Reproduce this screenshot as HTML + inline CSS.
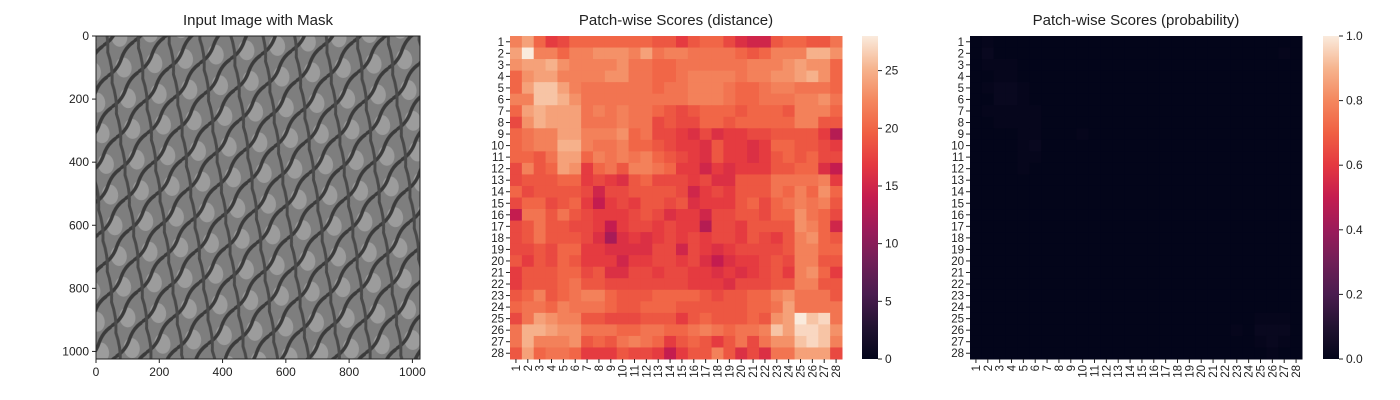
<!DOCTYPE html>
<html><head><meta charset="utf-8">
<style>
body{margin:0;background:#fff;}
svg{display:block;font-family:"Liberation Sans",Arial,sans-serif;}
</style></head>
<body>
<svg id="fig" width="1400" height="400">
<defs>
<pattern id="mesh" x="96" y="36" width="31" height="31" patternUnits="userSpaceOnUse" patternTransform="rotate(-8)">
<rect width="31" height="31" fill="#7e7e7e"/>
<ellipse cx="17" cy="17" rx="8" ry="10" fill="#9c9c9c"/>
<path d="M-2 24 Q10 20 16 8 T33 -8" stroke="#3b3b3b" stroke-width="3.5" fill="none"/>
<path d="M-2 55 Q10 51 16 39 T33 23" stroke="#3b3b3b" stroke-width="3.5" fill="none"/>
<path d="M3 -2 Q7 14 3 33" stroke="#4a4a4a" stroke-width="3" fill="none"/>
<path d="M34 -2 Q38 14 34 33" stroke="#4a4a4a" stroke-width="3" fill="none"/>
</pattern>
<linearGradient id="rocketGrad" x1="0" y1="1" x2="0" y2="0">
<stop offset="0" stop-color="#03051a"/><stop offset="0.1" stop-color="#221331"/>
<stop offset="0.2" stop-color="#4a1c4f"/><stop offset="0.3" stop-color="#701f57"/>
<stop offset="0.4" stop-color="#9b1b5a"/><stop offset="0.5" stop-color="#c41c4f"/>
<stop offset="0.6" stop-color="#e43840"/><stop offset="0.7" stop-color="#f06043"/>
<stop offset="0.8" stop-color="#f4875e"/><stop offset="0.9" stop-color="#f6b48e"/>
<stop offset="1" stop-color="#faebdd"/>
</linearGradient>
</defs>
<g id="root"></g>
</svg>
<script>
const imgTicks=[0,200,400,600,800,1000];
const distCbTicks=[0,5,10,15,20,25];
const probCbTicks=[0.0,0.2,0.4,0.6,0.8,1.0];
const distRows=[
[22,24,20,17,18,20,20,20,20,20,20,20,19,19,17,19,20,20,18,16,15,15,19,20,20,19,19,21],
[24,28,22,22,20,22,22,23,23,23,22,24,21,22,22,21,21,21,21,20,19,20,22,22,22,25,25,23],
[23,24,24,25,23,22,22,22,22,23,21,21,20,20,21,21,21,21,21,21,22,22,22,23,24,23,23,20],
[20,23,24,24,22,22,22,22,23,23,21,21,20,20,21,22,22,22,22,21,22,22,23,23,24,25,23,20],
[20,24,26,26,24,22,21,21,21,21,21,21,20,21,21,22,22,22,21,20,20,21,22,22,21,21,21,20],
[22,22,26,26,25,23,21,21,21,21,21,21,21,21,21,22,22,22,21,20,20,21,21,21,22,22,23,21],
[20,24,25,24,24,24,21,22,21,22,21,21,20,19,18,19,20,20,20,19,20,20,20,19,22,22,22,20],
[18,23,25,24,24,24,21,21,21,22,21,21,18,19,18,18,20,20,19,20,20,20,20,20,22,22,19,19],
[20,21,22,22,24,24,22,22,22,23,20,21,18,18,17,16,18,16,17,17,18,18,19,19,19,19,17,13],
[20,21,22,22,25,25,22,21,21,22,20,20,19,18,17,17,16,19,17,17,16,17,20,20,19,19,18,17],
[20,20,19,21,24,24,20,22,21,22,21,22,20,19,18,17,16,19,17,17,16,17,19,20,19,20,18,18],
[18,22,19,20,24,23,17,20,21,19,22,22,21,20,17,17,15,17,16,17,17,17,19,19,20,20,16,14],
[18,19,19,19,20,20,17,18,17,16,19,20,18,18,18,17,18,16,16,19,19,19,21,21,21,21,22,17],
[20,18,19,19,19,19,18,15,18,18,19,19,19,19,18,15,17,18,17,19,19,19,21,20,22,20,23,20],
[18,20,20,18,19,20,17,14,17,18,17,19,19,18,19,16,17,17,17,19,20,18,20,21,22,21,22,19],
[14,21,21,19,21,19,18,17,17,17,18,19,18,16,17,17,15,18,18,19,19,18,20,20,23,21,20,18],
[18,19,21,19,19,18,18,17,14,17,18,18,17,18,17,17,13,18,18,17,19,19,19,19,23,22,20,15],
[18,19,21,19,19,19,18,16,12,16,17,16,17,18,17,18,17,18,18,17,19,18,17,19,22,23,20,19],
[18,18,19,18,20,20,17,17,16,16,16,16,18,18,15,18,17,16,17,18,18,18,18,19,22,22,20,20],
[19,17,19,18,20,19,17,17,17,15,17,17,18,18,17,18,16,14,16,17,17,18,19,18,22,22,19,19],
[17,19,19,19,20,20,18,19,16,16,18,18,17,18,18,17,17,16,17,16,17,18,19,17,22,23,20,17],
[17,19,19,19,20,21,19,19,18,18,18,18,18,18,18,17,17,17,16,18,18,18,19,19,22,22,19,19],
[19,20,22,19,20,21,22,22,20,19,19,19,20,20,20,20,19,18,19,19,20,20,22,23,21,21,21,19],
[20,21,21,20,22,21,21,21,20,19,19,20,20,20,19,19,19,19,19,19,20,20,21,24,21,21,21,21],
[18,21,24,23,22,22,19,19,18,18,18,19,19,19,17,19,20,19,19,19,20,19,23,24,28,26,27,21],
[21,25,25,24,23,23,21,21,21,20,20,21,21,20,20,21,22,21,20,21,21,22,26,24,27,27,26,23],
[21,25,22,22,22,23,19,20,19,21,22,21,20,17,19,20,19,17,19,21,18,21,23,23,26,27,26,22],
[19,24,20,21,21,20,17,17,17,19,18,18,17,14,17,19,19,22,19,16,18,16,21,21,24,24,24,18]];
const probRows=[
[0,0.01,0,0,0,0,0,0,0,0,0,0,0,0,0,0,0,0,0,0,0,0,0,0,0,0,0,0],
[0,0.02,0,0,0,0,0,0,0,0,0,0,0,0,0,0,0,0,0,0,0,0,0,0,0,0,0.01,0],
[0,0.01,0.01,0.01,0,0,0,0,0,0,0,0,0,0,0,0,0,0,0,0,0,0,0,0,0,0,0,0],
[0,0,0.01,0.01,0,0,0,0,0,0,0,0,0,0,0,0,0,0,0,0,0,0,0,0,0,0,0,0],
[0,0.01,0.02,0.02,0.01,0,0,0,0,0,0,0,0,0,0,0,0,0,0,0,0,0,0,0,0,0,0,0],
[0,0,0.02,0.02,0.01,0,0,0,0,0,0,0,0,0,0,0,0,0,0,0,0,0,0,0,0,0,0,0],
[0,0.01,0.01,0.01,0.01,0.01,0,0,0,0,0,0,0,0,0,0,0,0,0,0,0,0,0,0,0,0,0,0],
[0,0,0.01,0.01,0.01,0.01,0,0,0,0,0,0,0,0,0,0,0,0,0,0,0,0,0,0,0,0,0,0],
[0,0,0,0,0.01,0.01,0,0,0,0.01,0,0,0,0,0,0,0,0,0,0,0,0,0,0,0,0,0,0],
[0,0,0,0,0.01,0.02,0,0,0,0,0,0,0,0,0,0,0,0,0,0,0,0,0,0,0,0,0,0],
[0,0,0,0,0.01,0.01,0,0,0,0,0,0,0,0,0,0,0,0,0,0,0,0,0,0,0,0,0,0],
[0,0,0,0,0.01,0,0,0,0,0,0,0,0,0,0,0,0,0,0,0,0,0,0,0,0,0,0,0],
[0,0,0,0,0,0,0,0,0,0,0,0,0,0,0,0,0,0,0,0,0,0,0,0,0,0,0,0],
[0,0,0,0,0,0,0,0,0,0,0,0,0,0,0,0,0,0,0,0,0,0,0,0,0,0,0,0],
[0,0,0,0,0,0,0,0,0,0,0,0,0,0,0,0,0,0,0,0,0,0,0,0,0,0,0,0],
[0,0,0,0,0,0,0,0,0,0,0,0,0,0,0,0,0,0,0,0,0,0,0,0,0,0,0,0],
[0,0,0,0,0,0,0,0,0,0,0,0,0,0,0,0,0,0,0,0,0,0,0,0,0,0,0,0],
[0,0,0,0,0,0,0,0,0,0,0,0,0,0,0,0,0,0,0,0,0,0,0,0,0,0,0,0],
[0,0,0,0,0,0,0,0,0,0,0,0,0,0,0,0,0,0,0,0,0,0,0,0,0,0,0,0],
[0,0,0,0,0,0,0,0,0,0,0,0,0,0,0,0,0,0,0,0,0,0,0,0,0,0,0,0],
[0,0,0,0,0,0,0,0,0,0,0,0,0,0,0,0,0,0,0,0,0,0,0,0,0,0,0,0],
[0,0,0,0,0,0,0,0,0,0,0,0,0,0,0,0,0,0,0,0,0,0,0,0,0,0,0,0],
[0,0,0,0,0,0,0,0,0,0,0,0,0,0,0,0,0,0,0,0,0,0,0,0,0,0,0,0],
[0,0,0,0,0,0,0,0,0,0,0,0,0,0,0,0,0,0,0,0,0,0,0,0,0,0,0,0],
[0,0,0,0,0,0,0,0,0,0,0,0,0,0,0,0,0,0,0,0,0,0,0,0,0.01,0.01,0.01,0],
[0,0,0,0,0,0,0,0,0,0,0,0,0,0,0,0,0,0,0,0,0,0,0.01,0,0.02,0.02,0.02,0],
[0,0,0,0,0,0,0,0,0,0,0,0,0,0,0,0,0,0,0,0,0,0,0,0,0.01,0.02,0.01,0],
[0,0,0,0,0,0,0,0,0,0,0,0,0,0,0,0,0,0,0,0,0,0,0,0,0,0.01,0,0]];

const NS="http://www.w3.org/2000/svg";
const root=document.getElementById('root');
function mk(tag,attrs,parent){const e=document.createElementNS(NS,tag);for(const k in attrs)e.setAttribute(k,attrs[k]);(parent||root).appendChild(e);return e;}
const stops=[[3,5,26],[34,19,49],[74,28,79],[112,31,87],[155,27,90],[196,28,79],[228,56,64],[240,96,67],[244,135,94],[246,180,142],[250,235,221]];
function rocket(t){t=Math.max(0,Math.min(1,t));const p=t*10,i=Math.min(9,Math.floor(p)),f=p-i;const a=stops[i],b=stops[i+1];
return 'rgb('+a.map((v,k)=>Math.round(v+(b[k]-v)*f)).join(',')+')';}

const IX0=96,IX1=420,IY0=36,IY1=359;
const ix=v=>IX0+v/1024*(IX1-IX0), iy=v=>IY0+v/1024*(IY1-IY0);
let t=mk('text',{x:(IX0+IX1)/2,y:25,'text-anchor':'middle','font-size':15,fill:'#222'});t.textContent='Input Image with Mask';


let im=mk('rect',{x:IX0,y:IY0,width:IX1-IX0,height:IY1-IY0,fill:'url(#mesh)',stroke:'#222','stroke-width':1});


imgTicks.forEach(v=>{
 mk('line',{x1:ix(v),x2:ix(v),y1:IY1,y2:IY1+4,stroke:'#222'});
 let a=mk('text',{x:ix(v),y:IY1+17,'text-anchor':'middle','font-size':12,fill:'#222'});a.textContent=v;
 
 
 mk('line',{x1:IX0-4,x2:IX0,y1:iy(v),y2:iy(v),stroke:'#222'});
 let b=mk('text',{x:IX0-7,y:iy(v)+4,'text-anchor':'end','font-size':12,fill:'#222'});b.textContent=v;
 
 
});

function heatmap(X0,X1,rows,vmax,title,cbX,cbTicks,fmt,nm){
 const Y0=36,Y1=359,n=rows.length,cw=(X1-X0)/28,ch=(Y1-Y0)/n;
 let tt=mk('text',{x:(X0+X1)/2,y:25,'text-anchor':'middle','font-size':15,fill:'#222'});tt.textContent=title;
 
 
 rows.forEach((r,i)=>r.forEach((v,j)=>{
  const c=mk('rect',{x:X0+j*cw,y:Y0+i*ch,width:cw+0.5,height:ch+0.5,fill:rocket(v/vmax)});
  
  
 }));
 for(let k=0;k<28;k++){
  const yc=Y0+(k+0.5)*ch, xc=X0+(k+0.5)*cw;
  mk('line',{x1:X0-4,x2:X0,y1:yc,y2:yc,stroke:'#222'});
  let a=mk('text',{x:X0-6,y:yc+4,'text-anchor':'end','font-size':11.5,fill:'#222'});a.textContent=k+1;
  
  
  mk('line',{x1:xc,x2:xc,y1:Y1,y2:Y1+4,stroke:'#222'});
  let b=mk('text',{x:xc+4,y:Y1+6,'text-anchor':'end','font-size':11.5,fill:'#222',transform:'rotate(-90 '+(xc+4)+' '+(Y1+6)+')'});b.textContent=k+1;
  
  
 }
 const cb=mk('rect',{x:cbX,y:Y0,width:16,height:Y1-Y0,fill:'url(#rocketGrad)'});
 
 
 cbTicks.forEach(v=>{
  const y=Y1-v/vmax*(Y1-Y0);
  mk('line',{x1:cbX+16,x2:cbX+20,y1:y,y2:y,stroke:'#222'});
  let a=mk('text',{x:cbX+23,y:y+4,'font-size':12,fill:'#222'});a.textContent=fmt(v);
  
  
 });
}
heatmap(510,842,distRows,28,'Patch-wise Scores (distance)',862,distCbTicks,v=>v,'distance-heatmap');
heatmap(970,1302,probRows,1,'Patch-wise Scores (probability)',1323,probCbTicks,v=>v.toFixed(1),'probability-heatmap');
</script>
</body></html>
